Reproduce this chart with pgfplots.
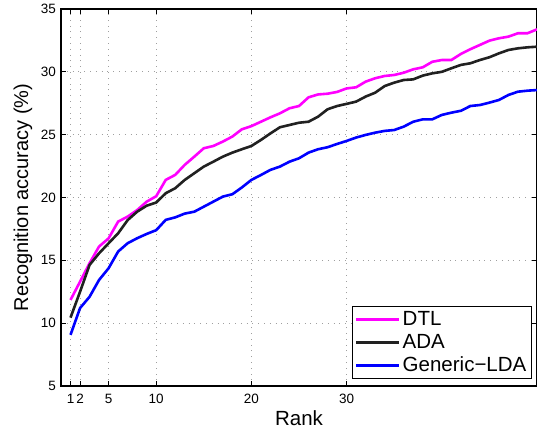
\documentclass[border=0pt]{standalone}
\usepackage{pgfplots}
\pgfplotsset{compat=1.18}
\usepackage{fontspec}
\setmainfont{Liberation Sans}

\definecolor{dtlmag}{rgb}{1,0,1}
\definecolor{adagray}{rgb}{0.13,0.13,0.13}
\definecolor{ldablue}{rgb}{0,0,1}

\begin{document}
\begin{tikzpicture}
\begin{axis}[
    name=ax,
    scale only axis,
    width=476pt, height=377pt,
    xmin=0, xmax=50, ymin=5, ymax=35,
    xtick={1,2,5,10,20,30},
    ytick={5,10,...,35},
    grid=major,
    grid style={gray!75, line width=0.7pt, dash pattern=on 0.8pt off 5pt},
    tick align=inside,
    major tick length=5pt,
    axis line style={line width=1.1pt},
    tick style={black, line width=0.7pt},
    ticklabel style={font=\fontsize{13.5}{13.5}\selectfont},
    xticklabel style={anchor=center, yshift=-13pt},
    yticklabel style={anchor=east, inner sep=0pt, xshift=-5pt},
    /pgf/number format/assume math mode=true,
    xlabel={Rank},
    ylabel={Recognition accuracy (\%)},
    every axis x label/.style={at={(axis description cs:0.5,-0.085)}, anchor=center,
        font=\fontsize{20.5}{20.5}\selectfont},
    every axis y label/.style={at={(axis description cs:-0.08,0.5)}, rotate=90, anchor=center,
        font=\fontsize{20}{20}\selectfont},
    legend cell align=left,
    legend style={
        at={(0.989,0.019)}, anchor=south east,
        draw=black, line width=0.8pt,
        font=\fontsize{20.5}{20.5}\selectfont,
        row sep=3pt, inner sep=3pt,
    },
    legend image code/.code={\draw[#1] (0pt,0pt) -- (43pt,0pt);},
]
\addplot[color=dtlmag, line width=2.6pt] coordinates {
(1,11.85)(2,13.3)(3,14.77)(4,16.1)(5,16.75)(6,18.08)(7,18.48)(8,19.0)(9,19.67)(10,20.1)
(11,21.4)(12,21.8)(13,22.6)(14,23.25)(15,23.92)(16,24.1)(17,24.45)(18,24.85)(19,25.43)(20,25.68)
(21,26.03)(22,26.38)(23,26.7)(24,27.1)(25,27.28)(26,27.97)(27,28.2)(28,28.26)(29,28.4)(30,28.68)
(31,28.77)(32,29.22)(33,29.49)(34,29.67)(35,29.75)(36,29.93)(37,30.2)(38,30.36)(39,30.8)(40,30.94)
(41,30.94)(42,31.42)(43,31.8)(44,32.14)(45,32.48)(46,32.67)(47,32.8)(48,33.07)(49,33.07)(50,33.38)
};
\addlegendentry{DTL}
\addplot[color=adagray, line width=2.6pt] coordinates {
(1,10.44)(2,12.5)(3,14.63)(4,15.56)(5,16.36)(6,17.15)(7,18.2)(8,18.87)(9,19.35)(10,19.6)
(11,20.34)(12,20.74)(13,21.4)(14,21.93)(15,22.46)(16,22.85)(17,23.25)(18,23.57)(19,23.84)(20,24.1)
(21,24.58)(22,25.1)(23,25.59)(24,25.77)(25,25.95)(26,26.03)(27,26.43)(28,27.02)(29,27.28)(30,27.45)
(31,27.63)(32,28.03)(33,28.34)(34,28.87)(35,29.14)(36,29.35)(37,29.4)(38,29.7)(39,29.88)(40,30.0)
(41,30.28)(42,30.55)(43,30.68)(44,30.94)(45,31.16)(46,31.47)(47,31.74)(48,31.87)(49,31.95)(50,32.0)
};
\addlegendentry{ADA}
\addplot[color=ldablue, line width=2.6pt] coordinates {
(1,9.07)(2,11.2)(3,12.1)(4,13.44)(5,14.37)(6,15.7)(7,16.36)(8,16.76)(9,17.1)(10,17.4)
(11,18.22)(12,18.42)(13,18.72)(14,18.87)(15,19.27)(16,19.67)(17,20.07)(18,20.26)(19,20.8)(20,21.4)
(21,21.79)(22,22.2)(23,22.46)(24,22.85)(25,23.12)(26,23.57)(27,23.84)(28,24.0)(29,24.26)(30,24.5)
(31,24.77)(32,24.98)(33,25.16)(34,25.3)(35,25.37)(36,25.64)(37,26.03)(38,26.22)(39,26.22)(40,26.57)
(41,26.75)(42,26.9)(43,27.28)(44,27.36)(45,27.55)(46,27.76)(47,28.16)(48,28.42)(49,28.5)(50,28.55)
};
\addlegendentry{Generic−LDA}
\end{axis}
\pgfresetboundingbox
\path ([shift={(-61pt,-45pt)}]ax.south west) rectangle ([shift={(0pt,9pt)}]ax.north east);
\end{tikzpicture}
\end{document}
